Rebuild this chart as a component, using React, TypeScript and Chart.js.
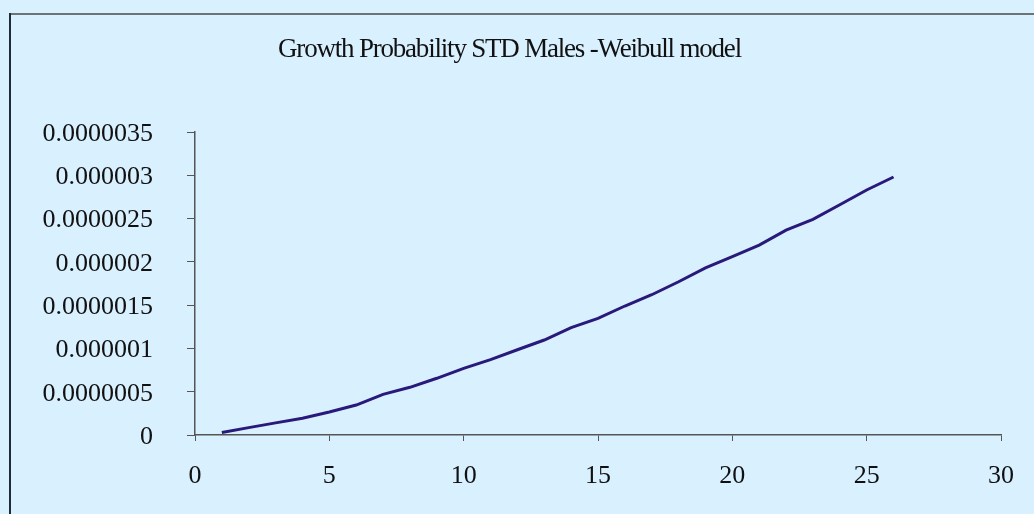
import React, { useEffect, useRef } from "react";
import { Chart, registerables } from "chart.js";

Chart.register(...registerables);

const ages: number[] = [1, 2, 3, 4, 5, 6, 7, 8, 9, 10, 11, 12, 13, 14, 15, 16, 17, 18, 19, 20, 21, 22, 23, 24, 25, 26];
const probability: number[] = [
  0.03e-6, 0.085e-6, 0.14e-6, 0.193e-6, 0.265e-6, 0.346e-6, 0.47e-6, 0.551e-6, 0.655e-6, 0.77e-6,
  0.87e-6, 0.985e-6, 1.097e-6, 1.24e-6, 1.347e-6, 1.49e-6, 1.62e-6, 1.77e-6, 1.93e-6, 2.06e-6,
  2.194e-6, 2.367e-6, 2.49e-6, 2.66e-6, 2.83e-6, 2.98e-6,
];
const titleText = "Growth Probability STD Males -Weibull model";
const xTicks: number[] = [0, 5, 10, 15, 20, 25, 30];
const yTickLabels: string[] = ["0", "0.0000005", "0.000001", "0.0000015", "0.000002", "0.0000025", "0.000003", "0.0000035"];

const BG = "#D9F0FF";
const SERIF = "'Liberation Serif', 'Times New Roman', serif";

export default function App() {
  const ref = useRef<HTMLCanvasElement | null>(null);

  useEffect(() => {
    document.body.style.margin = "0";
    document.body.style.background = BG;
    const canvas = ref.current;
    if (!canvas) return;

    const framePlugin = {
      id: "frame",
      beforeDraw(chart: any) {
        const ctx = chart.ctx;
        ctx.save();
        ctx.fillStyle = BG;
        ctx.fillRect(0, 0, chart.width, chart.height);
        ctx.lineWidth = 2;
        ctx.strokeStyle = "#6E7378";
        ctx.beginPath();
        ctx.moveTo(9, 14);
        ctx.lineTo(chart.width, 14);
        ctx.stroke();
        ctx.strokeStyle = "#1E2A36";
        ctx.beginPath();
        ctx.moveTo(10, 13);
        ctx.lineTo(10, chart.height);
        ctx.stroke();
        ctx.restore();
        // condensed title lettering (title layer is drawn before datasets)
        (ctx as any).letterSpacing = "-1.2px";
      },
      beforeDatasetsDraw(chart: any) {
        (chart.ctx as any).letterSpacing = "0px";
      },
      afterDraw(chart: any) {
        (chart.ctx as any).letterSpacing = "0px";
      },
    };

    const chart = new Chart(canvas, {
      type: "line",
      data: {
        datasets: [
          {
            data: ages.map((a, i) => ({ x: a, y: probability[i] })),
            borderColor: "#29197A",
            borderWidth: 3,
            pointRadius: 0,
            tension: 0,
            fill: false,
          },
        ],
      },
      options: {
        animation: false,
        responsive: false,
        maintainAspectRatio: false,
        layout: { padding: { top: 0, left: 17, right: 32, bottom: 0 } },
        plugins: {
          legend: { display: false },
          tooltip: { enabled: false },
          title: {
            display: true,
            text: titleText,
            color: "#111",
            font: { family: SERIF, size: 27, weight: "normal", lineHeight: 1.2 },
            padding: { top: 33.5, bottom: 66.1 },
          },
        },
        scales: {
          x: {
            type: "linear",
            min: 0,
            max: 30,
            afterBuildTicks: (scale: any) => {
              scale.ticks = xTicks.map((v) => ({ value: v }));
            },
            afterFit: (scale: any) => {
              scale.height = 79;
            },
            grid: {
              display: true,
              drawOnChartArea: false,
              drawTicks: true,
              tickLength: 6,
              color: "#555",
              lineWidth: 1,
            },
            border: { display: true, color: "#555", width: 1.5 },
            ticks: {
              z: 1,
              color: "#111",
              padding: 20,
              maxRotation: 0,
              font: { family: SERIF, size: 26 },
            },
          },
          y: {
            type: "linear",
            min: 0,
            max: 3.5e-6,
            afterBuildTicks: (scale: any) => {
              scale.ticks = yTickLabels.map((s) => ({ value: parseFloat(s) }));
            },
            afterFit: (scale: any) => {
              scale.width = 178;
            },
            grid: {
              display: true,
              drawOnChartArea: false,
              drawTicks: true,
              tickLength: 8,
              color: "#555",
              lineWidth: 1,
            },
            border: { display: true, color: "#555", width: 1.5 },
            ticks: {
              z: 1,
              color: "#111",
              padding: 34,
              labelOffset: 2,
              callback: (_v: any, i: number) => yTickLabels[i],
              font: { family: SERIF, size: 26 },
            },
          },
        },
      },
      plugins: [framePlugin],
    });

    return () => chart.destroy();
  }, []);

  return (
    <div style={{ position: "fixed", left: 0, top: 0, width: 1034, height: 514, background: BG }}>
      <canvas ref={ref} width={1034} height={514} style={{ width: 1034, height: 514, display: "block" }} />
    </div>
  );
}
